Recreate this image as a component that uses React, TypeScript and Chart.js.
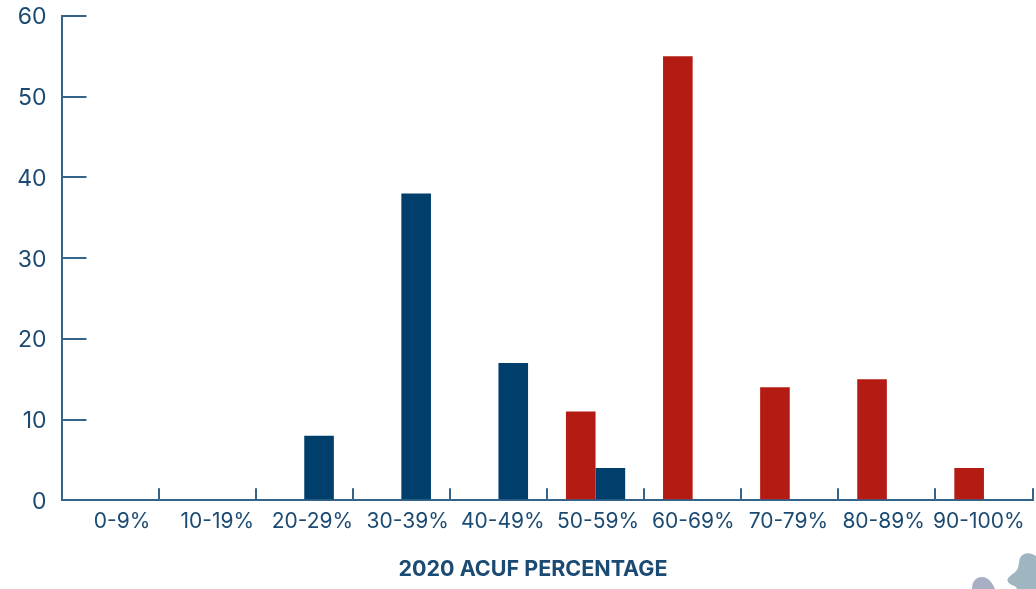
import React, { useEffect, useRef } from "react";
import { Chart, registerables } from "chart.js";

Chart.register(...registerables);

const categories = ["0-9%", "10-19%", "20-29%", "30-39%", "40-49%", "50-59%", "60-69%", "70-79%", "80-89%", "90-100%"];
const redValues = [0, 0, 0, 0, 0, 11, 55, 14, 15, 4];
const blueValues = [0, 0, 8, 38, 17, 4, 0, 0, 0, 0];
const xTitle = "2020 ACUF PERCENTAGE";

const RED = "#b31b13";
const BLUE = "#003f6b";
const AXIS = "#33658c";
const TEXT = "#1b4a72";
const FONT = "Inter, 'Noto Sans', sans-serif";

const zeroPadding = (s: any) => {
  s.paddingTop = 0;
  s.paddingBottom = 0;
  s.paddingLeft = 0;
  s.paddingRight = 0;
};

// The title sits left of the plot's centre, and the tick labels are spaced a
// little tighter than the tick marks, as in the reference.
const layoutTweaks = {
  id: "layoutTweaks",
  afterLayout(chart: any) {
    if (chart.titleBlock) {
      chart.titleBlock.left = 34;
      chart.titleBlock.right = 1032;
    }
  },
  beforeDraw(chart: any) {
    chart.scales.x.getLabelItems().forEach((item: any, i: number) => {
      if (!item.options.shifted) {
        item.options.translation[0] += 12 - 1.9 * i;
        item.options.shifted = true;
      }
    });
    chart.scales.y.getLabelItems().forEach((item: any) => {
      if (!item.options.shifted) {
        item.options.translation[1] += 1.5;
        item.options.shifted = true;
      }
    });
  },
};

export default function App() {
  const ref = useRef<HTMLCanvasElement | null>(null);
  useEffect(() => {
    const chart = new Chart(ref.current!, {
      type: "bar",
      plugins: [layoutTweaks],
      data: {
        labels: categories,
        datasets: [
          { data: redValues, backgroundColor: RED, barPercentage: 1, categoryPercentage: 0.61 },
          { data: blueValues, backgroundColor: BLUE, barPercentage: 1, categoryPercentage: 0.61 },
        ],
      },
      options: {
        responsive: false,
        animation: false,
        layout: { padding: { left: 0, right: 3.5, top: 16, bottom: 7 } },
        plugins: {
          legend: { display: false },
          tooltip: { enabled: false },
          title: {
            display: true,
            text: xTitle,
            position: "bottom",
            color: TEXT,
            font: { family: FONT, size: 21.5, weight: "bold" },
            padding: { top: 0, bottom: 0 },
          },
        },
        scales: {
          x: {
            grid: {
              offset: true,
              drawOnChartArea: false,
              color: AXIS,
              lineWidth: 2,
              tickLength: -12,
            },
            border: { color: AXIS, width: 2 },
            ticks: { color: TEXT, font: { family: FONT, size: 21 }, padding: 21, maxRotation: 0, autoSkip: false },
            afterFit: (s: any) => { s.height = 56; zeroPadding(s); },
          },
          y: {
            min: 0,
            max: 60,
            grid: {
              drawOnChartArea: false,
              color: AXIS,
              lineWidth: 2,
              tickLength: -25,
            },
            border: { color: AXIS, width: 2 },
            ticks: { stepSize: 10, color: TEXT, font: { family: FONT, size: 23 }, padding: 40 },
            afterFit: (s: any) => { s.width = 61.5; zeroPadding(s); },
          },
        },
      },
    } as any);
    return () => chart.destroy();
  }, []);
  return (
    <div style={{ position: "absolute", left: 0, top: 0, width: 1036, height: 589, overflow: "hidden", background: "#fff" }}>
      <canvas ref={ref} width={1036} height={589} style={{ display: "block" }} />
      <svg width={1036} height={589} style={{ position: "absolute", left: 0, top: 0, pointerEvents: "none" }}>
        <path d="M972 589 C972 580 977 577 982 577 C988 577 992 582 995 589 Z" fill="#a6afc4" />
        <path d="M1036 589 L1036 556 C1030 552 1023 552 1020 558 C1018 564 1020 568 1014 573 C1010 576 1006 579 1008 582 C1011 586 1016 585 1017 589 Z" fill="#9fb5bf" />
      </svg>
    </div>
  );
}
